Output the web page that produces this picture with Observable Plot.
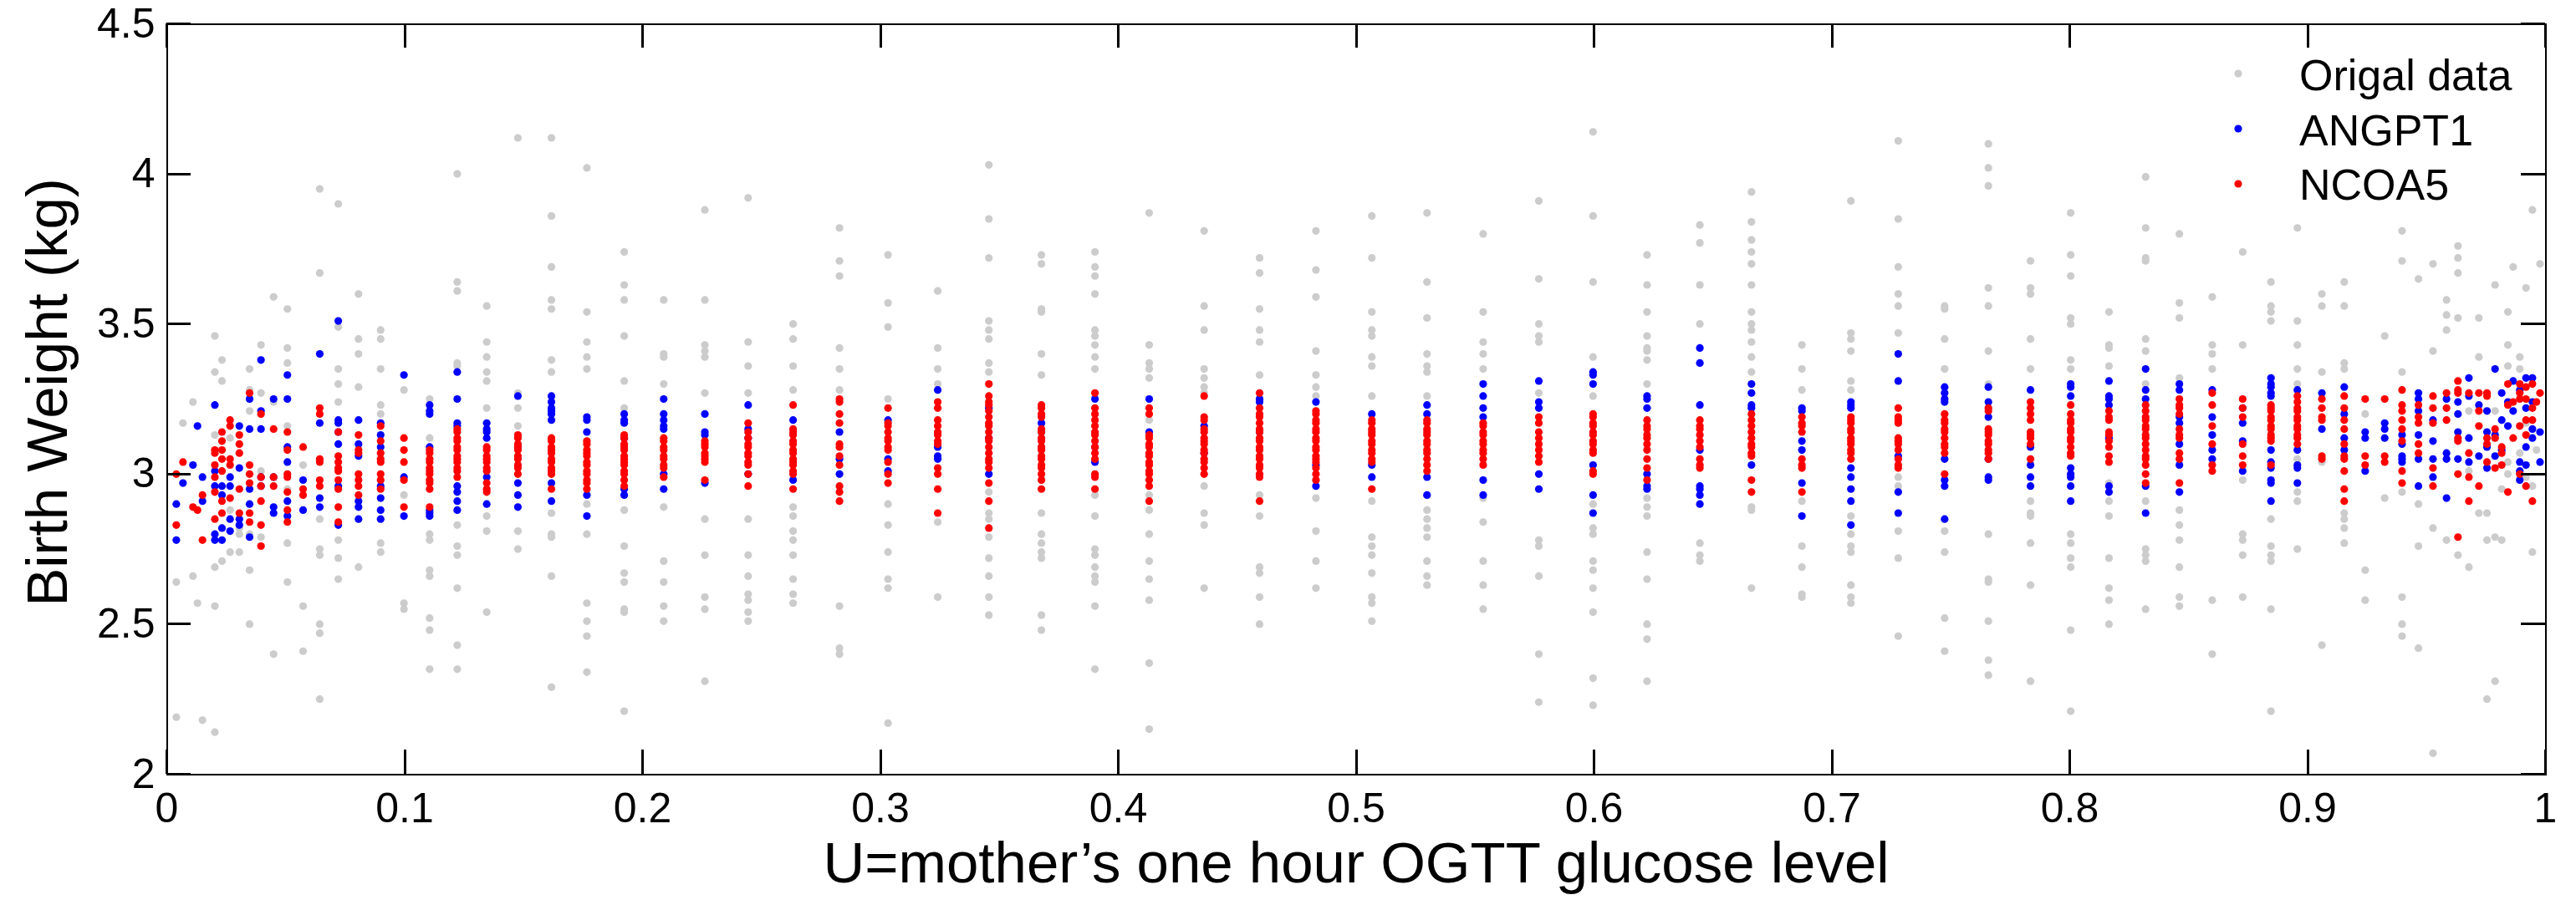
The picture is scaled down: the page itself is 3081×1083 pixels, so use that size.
<!DOCTYPE html>
<html>
<head>
<meta charset="utf-8">
<script src="https://cdn.jsdelivr.net/npm/d3@7"></script>
<script src="https://cdn.jsdelivr.net/npm/@observablehq/plot@0.6"></script>
<style>
  html, body { margin: 0; padding: 0; background: #fff; }
  #chart { position: relative; width: 3081px; height: 1083px; }
</style>
</head>
<body>
<div id="chart"></div>
<script>
// ---- data: column positions (U) and the birth weights (kg) seen in each column ----
const colU = [0.004, 0.0068, 0.011, 0.0129, 0.015, 0.0202, 0.0232, 0.0266, 0.0305, 0.0348,
  0.0396, 0.0449, 0.0507, 0.0573, 0.0643, 0.0721, 0.0806, 0.0899, 0.0997, 0.1105,
  0.1221, 0.1345, 0.1476, 0.1617, 0.1766, 0.1923, 0.2089, 0.2262, 0.2444, 0.2633,
  0.2828, 0.3032, 0.3241, 0.3456, 0.3677, 0.3902, 0.413, 0.4361, 0.4594, 0.4831,
  0.5066, 0.5298, 0.5534, 0.5768, 0.5996, 0.6223, 0.6445, 0.6662, 0.6874, 0.708,
  0.7279, 0.7474, 0.7658, 0.7835, 0.8004, 0.8165, 0.8319, 0.8461, 0.8599, 0.8727,
  0.8846, 0.8957, 0.906, 0.9154, 0.9242, 0.9324, 0.9397, 0.9466, 0.9527, 0.9584,
  0.9632, 0.9678, 0.972, 0.9754, 0.9788, 0.9816, 0.9842, 0.9864, 0.9892, 0.9918,
  0.9945, 0.9962, 0.9977];

const origalData = [
  [2.64, 2.19], [3.17], [3.24, 2.66], [2.57], [2.18],
  [3.46, 3.34, 3.13, 2.69, 2.56, 2.14], [3.38, 3.31, 2.71], [3.12, 2.88, 2.74], [2.82, 2.80, 2.74],
  [3.35, 3.28, 3.21, 2.80, 2.68, 2.50], [3.43, 3.27, 3.01, 2.79], [3.59, 3.24, 2.40],
  [3.55, 3.42, 3.37, 3.16, 2.95, 2.77, 2.64], [3.03, 2.56, 2.41],
  [3.95, 3.67, 2.85, 2.75, 2.73, 2.50, 2.47, 2.25], [3.90, 3.49, 3.35, 3.30, 3.24, 2.78, 2.72, 2.65],
  [3.60, 3.45, 3.40, 3.29, 2.69], [3.48, 3.45, 3.35, 3.23, 3.20, 2.77, 2.74], [3.28, 2.93, 2.57, 2.55],
  [3.25, 3.12, 2.80, 2.78, 2.68, 2.66, 2.52, 2.48, 2.35],
  [4.00, 3.64, 3.61, 3.37, 3.36, 2.83, 2.76, 2.73, 2.62, 2.43, 2.35],
  [3.56, 3.44, 3.39, 3.34, 3.31, 3.22, 2.86, 2.81, 2.54], [4.12, 3.27, 3.22, 3.16, 2.81, 2.75],
  [4.12, 3.86, 3.69, 3.58, 3.55, 3.38, 3.34, 2.87, 2.80, 2.79, 2.66, 2.29],
  [4.02, 3.54, 3.44, 3.39, 3.35, 2.90, 2.80, 2.57, 2.51, 2.46, 2.34],
  [3.74, 3.63, 3.58, 3.46, 3.31, 3.22, 2.88, 2.76, 2.67, 2.64, 2.55, 2.54, 2.21],
  [3.58, 3.40, 3.39, 3.30, 2.89, 2.71, 2.64, 2.56, 2.51],
  [3.88, 3.58, 3.43, 3.41, 3.39, 3.27, 2.85, 2.73, 2.59, 2.55, 2.31],
  [3.92, 3.44, 3.36, 3.27, 2.85, 2.73, 2.66, 2.60, 2.58, 2.54, 2.51],
  [3.50, 3.45, 3.36, 3.28, 2.89, 2.86, 2.81, 2.78, 2.73, 2.65, 2.60, 2.57],
  [3.82, 3.71, 3.66, 3.42, 3.35, 3.28, 2.56, 2.42, 2.40],
  [3.73, 3.57, 3.49, 3.25, 2.90, 2.83, 2.74, 2.65, 2.62, 2.17],
  [3.61, 3.42, 3.35, 3.30, 2.84, 2.59],
  [4.03, 3.85, 3.72, 3.51, 3.48, 3.45, 3.37, 3.34, 2.94, 2.87, 2.85, 2.79, 2.72, 2.66, 2.59, 2.53],
  [3.73, 3.70, 3.55, 3.54, 3.40, 3.33, 2.87, 2.80, 2.77, 2.74, 2.72, 2.53, 2.48],
  [3.74, 3.69, 3.66, 3.60, 3.48, 3.46, 3.43, 3.39, 3.35, 2.93, 2.86, 2.75, 2.73, 2.69, 2.66, 2.64, 2.56, 2.35],
  [3.87, 3.43, 3.37, 3.35, 3.32, 3.18, 2.93, 2.88, 2.80, 2.71, 2.65, 2.58, 2.37, 2.15],
  [3.81, 3.56, 3.48, 3.35, 3.32, 3.29, 3.27, 2.96, 2.87, 2.83, 2.62],
  [3.72, 3.67, 3.55, 3.48, 3.44, 3.33, 2.93, 2.86, 2.69, 2.67, 2.59, 2.50],
  [3.81, 3.68, 3.59, 3.41, 3.33, 3.29, 3.26, 2.92, 2.81, 2.71, 2.62],
  [3.86, 3.72, 3.54, 3.48, 3.46, 3.39, 3.36, 3.26, 2.91, 2.79, 2.76, 2.73, 2.67, 2.59, 2.57, 2.51],
  [3.87, 3.64, 3.52, 3.40, 3.36, 3.34, 3.26, 2.93, 2.88, 2.85, 2.82, 2.79, 2.71, 2.66, 2.63],
  [3.80, 3.54, 3.44, 3.40, 3.35, 2.92, 2.84, 2.71, 2.63, 2.55],
  [3.91, 3.65, 3.50, 3.46, 3.44, 3.27, 2.78, 2.76, 2.66, 2.40, 2.24],
  [4.14, 3.86, 3.64, 3.39, 3.26, 2.90, 2.82, 2.80, 2.71, 2.68, 2.62, 2.54, 2.32, 2.23],
  [3.73, 3.63, 3.54, 3.46, 3.42, 3.41, 3.38, 3.30, 2.92, 2.89, 2.86, 2.74, 2.65, 2.50, 2.45, 2.31],
  [3.83, 3.77, 3.63, 3.50, 2.77, 2.73, 2.71],
  [3.94, 3.84, 3.78, 3.74, 3.70, 3.63, 3.54, 3.50, 3.48, 3.44, 3.39, 3.34, 2.89, 2.88, 2.62],
  [3.43, 3.35, 3.28, 2.91, 2.76, 2.69, 2.60, 2.59],
  [3.91, 3.47, 3.45, 3.41, 3.31, 3.28, 2.86, 2.80, 2.76, 2.74, 2.63, 2.59, 2.57],
  [4.11, 3.85, 3.69, 3.60, 3.56, 3.47, 2.99, 2.96, 2.81, 2.72, 2.46],
  [3.56, 3.55, 3.45, 3.35, 2.81, 2.74, 2.52, 2.41],
  [4.10, 4.02, 3.96, 3.62, 3.56, 3.41, 3.30, 2.80, 2.65, 2.64, 2.51, 2.38, 2.33],
  [3.71, 3.62, 3.60, 3.45, 3.35, 2.91, 2.87, 2.86, 2.77, 2.63, 2.31],
  [3.87, 3.73, 3.66, 3.52, 3.50, 3.38, 3.35, 2.80, 2.77, 2.72, 2.69, 2.48, 2.21],
  [3.54, 3.43, 3.42, 3.36, 2.97, 2.91, 2.86, 2.72, 2.62, 2.58, 2.50],
  [3.99, 3.82, 3.72, 3.71, 3.45, 3.41, 3.30, 2.91, 2.75, 2.73, 2.71, 2.55],
  [3.80, 3.57, 3.52, 3.32, 2.88, 2.83, 2.78, 2.69, 2.59, 2.56],
  [3.59, 3.43, 3.40, 3.35, 2.58, 2.40],
  [3.74, 3.43, 2.98, 2.80, 2.78, 2.73, 2.59],
  [3.64, 3.56, 3.54, 3.51, 2.85, 2.76, 2.73, 2.71, 2.55, 2.21],
  [3.82, 3.51, 3.43, 3.35, 3.30, 3.05, 2.94, 2.91, 2.75],
  [3.60, 3.56, 3.34, 3.04, 2.43],
  [3.64, 3.56, 3.37, 3.35, 2.87, 2.85, 2.82, 2.77],
  [3.20, 2.68, 2.58], [3.46, 2.92],
  [3.81, 3.71, 3.34, 2.94, 2.59, 2.50, 2.46],
  [3.65, 2.90, 2.76, 2.42], [3.70, 3.41, 2.82, 2.07], [3.58, 3.53, 3.48, 2.78],
  [3.76, 3.72, 3.67, 3.52, 2.73], [3.21, 3.01, 2.69], [3.52, 3.39, 2.87], [2.87, 2.78, 2.25],
  [3.63, 3.21, 2.79, 2.31], [2.95, 2.78], [3.54, 3.43, 3.36, 3.04, 3.00], [3.69],
  [3.39, 3.35, 3.07], [3.62, 3.17, 2.99], [3.88, 2.96, 2.74], [3.08], [3.70]
];

const angpt1 = [
  [2.90, 2.78], [2.97], [3.03], [3.16], [2.99, 2.91],
  [3.23, 3.01, 2.96, 2.80, 2.78], [2.96, 2.93, 2.82, 2.78], [2.99, 2.96, 2.85, 2.81], [3.16, 3.02, 2.85, 2.83],
  [3.25, 3.15, 2.95, 2.90, 2.79], [3.38, 3.21, 3.15, 2.99, 2.96], [3.25, 2.99, 2.89, 2.87],
  [3.33, 3.25, 3.09, 3.04, 2.91, 2.86], [2.98, 2.88],
  [3.40, 3.17, 2.92, 2.89], [3.51, 3.18, 3.17, 3.14, 3.10, 2.96, 2.83],
  [3.18, 3.10, 3.06, 2.91, 2.89, 2.85], [3.17, 3.13, 3.09, 2.96, 2.92, 2.88, 2.85], [3.33, 2.99, 2.86],
  [3.23, 3.21, 3.20, 3.09, 2.88, 2.87, 2.86],
  [3.34, 3.25, 3.17, 3.16, 2.96, 2.94, 2.91, 2.88],
  [3.17, 3.15, 3.14, 3.12, 2.99, 2.90], [3.26, 3.09, 2.97, 2.93, 2.89],
  [3.26, 3.24, 3.22, 3.21, 3.20, 3.18, 2.97, 2.91],
  [3.19, 3.18, 3.14, 2.93, 2.86],
  [3.20, 3.18, 3.17, 3.12, 2.95, 2.93],
  [3.25, 3.20, 3.18, 3.16, 3.15, 3.00, 2.95],
  [3.20, 3.14, 3.13, 2.97],
  [3.23, 3.15, 3.12, 3.00],
  [3.18, 2.98],
  [3.14, 3.05, 3.00],
  [3.18, 3.05, 3.01],
  [3.28, 3.09, 3.06, 3.05],
  [3.22, 3.12, 3.00],
  [3.17, 3.14, 3.09],
  [3.25, 3.09, 3.04],
  [3.25, 3.14],
  [3.16, 3.07],
  [3.25, 3.24, 3.14],
  [3.24, 3.03, 2.96],
  [3.20, 3.03, 2.99],
  [3.23, 3.20, 2.99, 2.93],
  [3.30, 3.26, 3.22, 3.19, 2.98, 2.93],
  [3.31, 3.24, 3.22, 3.00, 2.95],
  [3.34, 3.33, 3.30, 3.03, 2.93, 2.87],
  [3.26, 3.25, 3.22, 3.00, 2.96, 2.95],
  [3.42, 3.37, 3.23, 3.08, 2.96, 2.95, 2.93, 2.90],
  [3.30, 3.27, 3.23, 3.22, 3.03],
  [3.22, 3.21, 3.11, 3.08, 2.97, 2.86],
  [3.24, 3.23, 3.22, 3.02, 2.99, 2.95, 2.91, 2.83],
  [3.40, 3.31, 3.06, 2.94, 2.87],
  [3.29, 3.27, 3.25, 3.24, 3.05, 2.98, 2.96, 2.85],
  [3.29, 3.24, 3.19, 3.05, 2.99, 2.98],
  [3.28, 3.09, 3.03, 2.99, 2.96],
  [3.30, 3.29, 3.26, 3.02, 3.00, 2.99, 2.96, 2.91],
  [3.31, 3.26, 3.25, 3.23, 3.12, 2.96, 2.94],
  [3.35, 3.28, 3.25, 2.96, 2.87],
  [3.30, 3.28, 3.19, 3.17, 3.10, 3.03, 2.94],
  [3.28, 3.19, 3.13, 3.08, 3.05],
  [3.22, 3.17, 3.11, 3.01],
  [3.32, 3.30, 3.29, 3.27, 3.26, 3.08, 3.04, 3.02, 2.98, 2.97, 2.91],
  [3.28, 3.08, 3.03, 3.02, 2.97],
  [3.27, 3.15],
  [3.29, 3.20, 3.12, 3.08],
  [3.14, 3.12, 3.01], [3.17, 3.15, 3.12],
  [3.13, 3.10, 3.06, 3.05, 3.04],
  [3.27, 3.25, 3.21, 3.13, 3.05, 2.96], [3.18, 3.11, 3.05, 2.99], [3.25, 3.07, 3.05, 2.92],
  [3.24, 3.20, 3.14, 3.05], [3.32, 3.26, 3.12, 3.04], [3.23, 3.06], [3.21, 3.14, 3.09, 3.02],
  [3.35, 3.13, 3.06], [3.27, 3.18, 3.08], [3.24, 3.16], [3.31, 3.21],
  [3.28, 3.04, 3.01, 2.98], [3.32, 3.22, 3.09, 3.03], [3.32, 3.24, 3.15, 3.12], [], [3.14, 3.04]
];

const ncoa5 = [
  [3.00, 2.83], [3.04], [2.89], [2.88], [2.93, 2.78],
  [3.08, 3.07, 3.03, 2.99, 2.94, 2.85], [3.14, 3.11, 3.08, 3.05, 3.01, 2.91, 2.87], [3.18, 3.16, 3.05, 3.03, 2.92],
  [3.13, 3.10, 3.07, 2.95, 2.87],
  [3.27, 3.03, 3.00, 2.97, 2.87, 2.84], [3.20, 2.99, 2.96, 2.91, 2.83, 2.76], [3.15, 2.99, 2.96],
  [3.14, 3.08, 3.00, 2.99, 2.94, 2.88, 2.84], [3.09, 2.95, 2.93],
  [3.22, 3.20, 3.05, 3.04, 2.98, 2.96], [3.14, 3.06, 3.04, 3.02, 3.01, 2.98, 2.95, 2.89, 2.84],
  [3.13, 3.08, 3.07, 3.00, 2.98, 2.96, 2.93], [3.16, 3.11, 3.07, 3.05, 3.04, 3.00, 2.98, 2.95],
  [3.12, 3.08, 3.04, 2.98, 2.89],
  [3.08, 3.07, 3.05, 3.04, 3.02, 3.01, 3.00, 2.98, 2.97, 2.95, 2.89],
  [3.15, 3.14, 3.12, 3.11, 3.09, 3.08, 3.06, 3.05, 3.04, 3.02, 3.01, 2.99],
  [3.09, 3.08, 3.06, 3.05, 3.04, 3.02, 3.01, 2.97, 2.95, 2.94],
  [3.13, 3.12, 3.10, 3.09, 3.08, 3.06, 3.05, 3.03, 3.02, 3.00],
  [3.12, 3.11, 3.09, 3.08, 3.07, 3.05, 3.04, 3.02, 3.01, 3.00, 2.95],
  [3.11, 3.10, 3.08, 3.07, 3.06, 3.04, 3.03, 3.01, 3.00, 2.98, 2.97, 2.95],
  [3.13, 3.12, 3.10, 3.09, 3.08, 3.06, 3.05, 3.04, 3.03, 3.01, 3.00, 2.98, 2.96],
  [3.12, 3.11, 3.09, 3.08, 3.06, 3.05, 3.03, 3.02, 2.99],
  [3.11, 3.10, 3.09, 3.07, 3.06, 3.05, 3.04, 2.98],
  [3.17, 3.14, 3.12, 3.10, 3.09, 3.07, 3.06, 3.04, 3.03, 3.00, 2.96],
  [3.23, 3.15, 3.14, 3.13, 3.11, 3.10, 3.08, 3.07, 3.05, 3.04, 3.03, 3.01, 3.00, 2.95],
  [3.25, 3.24, 3.20, 3.17, 3.10, 3.09, 3.06, 3.03, 2.96, 2.94, 2.91],
  [3.22, 3.17, 3.16, 3.14, 3.12, 3.11, 3.09, 3.08, 3.04, 3.00, 2.97],
  [3.24, 3.22, 3.18, 3.16, 3.14, 3.13, 3.11, 3.10, 3.02, 3.00, 2.95, 2.87],
  [3.30, 3.26, 3.24, 3.23, 3.21, 3.19, 3.17, 3.16, 3.14, 3.12, 3.11, 3.09, 3.07, 3.05, 3.04, 3.02, 2.97, 2.91, 2.82],
  [3.23, 3.22, 3.20, 3.19, 3.15, 3.14, 3.12, 3.11, 3.09, 3.08, 3.06, 3.05, 3.03, 3.02, 3.00, 2.98, 2.95],
  [3.27, 3.22, 3.20, 3.18, 3.16, 3.14, 3.13, 3.11, 3.09, 3.07, 3.05, 3.00, 2.99, 2.95],
  [3.22, 3.20, 3.13, 3.12, 3.10, 3.09, 3.07, 3.06, 3.04, 3.03, 3.01, 3.00, 2.98, 2.96, 2.91],
  [3.26, 3.19, 3.18, 3.15, 3.14, 3.12, 3.11, 3.10, 3.08, 3.07, 3.05, 3.04, 3.02, 3.00],
  [3.27, 3.22, 3.20, 3.19, 3.17, 3.15, 3.14, 3.12, 3.11, 3.09, 3.08, 3.06, 3.05, 3.03, 3.02, 3.00, 2.99, 2.91],
  [3.21, 3.20, 3.18, 3.17, 3.15, 3.14, 3.12, 3.11, 3.09, 3.08, 3.06, 3.05, 3.04, 3.02, 3.00, 2.98],
  [3.18, 3.17, 3.15, 3.14, 3.13, 3.11, 3.10, 3.08, 3.07, 3.05, 3.04, 2.95],
  [3.18, 3.17, 3.15, 3.14, 3.13, 3.11, 3.10, 3.08, 3.07, 3.05, 3.03, 3.01],
  [3.17, 3.16, 3.14, 3.13, 3.11, 3.10, 3.08, 3.07, 3.05, 3.03],
  [3.19, 3.17, 3.14, 3.12, 3.10, 3.08, 3.06, 3.04],
  [3.20, 3.19, 3.17, 3.16, 3.14, 3.13, 3.11, 3.10, 3.08, 3.07, 3.01, 3.00],
  [3.18, 3.16, 3.15, 3.13, 3.12, 3.10, 3.08, 3.05, 3.02, 2.98],
  [3.18, 3.16, 3.15, 3.13, 3.11, 3.09, 3.05, 3.03, 3.02],
  [3.20, 3.18, 3.16, 3.14, 3.12, 3.10, 3.09, 3.07, 3.06, 2.98, 2.94],
  [3.19, 3.17, 3.16, 3.14, 3.05, 3.03, 3.02, 2.94],
  [3.19, 3.18, 3.17, 3.15, 3.14, 3.12, 3.11, 3.10, 3.08, 3.07, 3.05],
  [3.22, 3.19, 3.18, 3.17, 3.12, 3.11, 3.10, 3.08, 3.05, 3.03, 3.02],
  [3.20, 3.18, 3.17, 3.15, 3.14, 3.12, 3.10, 3.09, 3.07, 3.00],
  [3.22, 3.21, 3.15, 3.14, 3.13, 3.11, 3.10, 3.08, 3.07, 3.05],
  [3.24, 3.22, 3.20, 3.18, 3.14, 3.13, 3.12, 3.10, 3.05],
  [3.23, 3.20, 3.18, 3.17, 3.15, 3.14, 3.12, 3.11, 3.09, 3.07, 3.06],
  [3.21, 3.19, 3.18, 3.14, 3.13, 3.11, 3.09, 3.06, 3.04],
  [3.23, 3.21, 3.19, 3.18, 3.16, 3.15, 3.13, 3.12, 3.10, 3.08, 3.06, 3.05, 3.03, 3.00, 2.97],
  [3.25, 3.23, 3.22, 3.20, 3.15, 3.13, 3.12, 3.07, 3.05, 2.97],
  [3.27, 3.23, 3.16, 3.10, 3.03, 3.01],
  [3.25, 3.22, 3.19, 3.10, 3.06, 3.03],
  [3.23, 3.22, 3.21, 3.19, 3.18, 3.16, 3.15, 3.13, 3.12, 3.11, 3.03],
  [3.26, 3.24, 3.22, 3.21, 3.19, 3.18, 3.16, 3.15, 3.13, 3.12, 3.10],
  [3.25, 3.22, 3.19, 3.18, 3.06, 3.05],
  [3.26, 3.22, 3.18, 3.15, 3.10, 3.06, 3.05, 3.01, 2.95, 2.91],
  [3.25, 3.06, 3.03], [3.25, 3.06, 3.04],
  [3.28, 3.23, 3.21, 3.18, 3.15, 3.11, 3.01, 2.97],
  [3.23, 3.19, 3.17, 3.10, 3.07], [3.26, 3.22, 3.17, 3.02, 2.96], [3.27, 3.22, 3.18],
  [3.31, 3.28, 3.27, 3.12, 3.11, 3.00, 2.79], [3.27, 3.07, 2.99, 2.91], [3.27, 3.21, 3.16, 2.96],
  [3.27, 3.26, 3.12, 3.10, 3.04], [3.15, 3.12, 3.02], [3.09, 3.07, 3.03], [3.30, 3.23, 2.94],
  [3.24, 3.12], [3.30, 3.27, 3.25, 3.16, 3.00], [3.29, 3.25, 3.18, 3.13, 2.96],
  [3.30, 3.22, 3.18, 2.91], [3.24], [3.27]
];

const seriesNames = ["Origal data", "ANGPT1", "NCOA5"];
const seriesColors = ["#cccccc", "#0000ff", "#ff0000"];
const xTicks = [0, 0.1, 0.2, 0.3, 0.4, 0.5, 0.6, 0.7, 0.8, 0.9, 1];
const yTicks = [2, 2.5, 3, 3.5, 4, 4.5];
const xLabel = "U=mother\u2019s one hour OGTT glucose level";
const yLabel = "Birth Weight (kg)";

// ---- build tidy tables ----
function flatten(cols) {
  const out = [];
  cols.forEach((ys, i) => ys.forEach(y => out.push({u: colU[i], w: y})));
  return out;
}
const tables = [flatten(origalData), flatten(angpt1), flatten(ncoa5)];

const W = 3081, H = 1083;
const M = {left: 199, right: 37, top: 28, bottom: 157};
const frameW = W - M.left - M.right, frameH = H - M.top - M.bottom;
const tickLen = 29;
const font = "'Liberation Sans', Arial, Helvetica, sans-serif";
const tickStyle = {stroke: "#000", strokeWidth: 3, shapeRendering: "crispEdges"};

const plot = Plot.plot({
  width: W,
  height: H,
  marginLeft: M.left,
  marginRight: M.right,
  marginTop: M.top,
  marginBottom: M.bottom,
  style: {fontFamily: font, background: "#fff", color: "#000"},
  x: {domain: [0, 1]},
  y: {domain: [2, 4.5]},
  marks: [
    ...tables.map((t, i) => Plot.dot(t, {x: "u", y: "w", r: 4.6, fill: seriesColors[i]})),
    Plot.frame({stroke: "#000", strokeWidth: 2, shapeRendering: "crispEdges"}),
    // inward ticks on all four sides
    Plot.tickX(xTicks, {x: d => d, ...tickStyle, insetTop: frameH - tickLen}),
    Plot.tickX(xTicks, {x: d => d, ...tickStyle, insetBottom: frameH - tickLen}),
    Plot.tickY(yTicks, {y: d => d, ...tickStyle, insetRight: frameW - tickLen}),
    Plot.tickY(yTicks, {y: d => d, ...tickStyle, insetLeft: frameW - tickLen}),
    // tick labels
    Plot.axisX({anchor: "bottom", ticks: xTicks, tickSize: 0, tickPadding: 22, fontSize: 50, tickFormat: d => String(d), label: null}),
    Plot.axisY({anchor: "left", ticks: yTicks, tickSize: 0, tickPadding: 14, fontSize: 50, tickFormat: d => String(d), label: null}),
    // axis titles
    Plot.text([xLabel], {text: d => d, frameAnchor: "bottom", dy: 129, lineAnchor: "bottom", textAnchor: "middle", fontSize: 69}),
    Plot.text([yLabel], {text: d => d, frameAnchor: "left", dx: -120, dy: -8, rotate: -90, lineAnchor: "bottom", textAnchor: "middle", fontSize: 69})
  ]
});

document.getElementById("chart").appendChild(plot);

// ---- legend (inside the plot, top-right) ----
const svg = d3.select(plot);
const lg = svg.append("g").attr("class", "legend");
seriesNames.forEach((name, i) => {
  lg.append("circle").attr("cx", 2677).attr("cy", 88 + 66 * i).attr("r", 4.6).attr("fill", seriesColors[i]);
  lg.append("text").attr("x", 2750).attr("y", 108 + 65.5 * i).attr("text-anchor", "start")
    .attr("font-size", 52).attr("font-family", font).attr("fill", "#000").text(name);
});
</script>
</body>
</html>
